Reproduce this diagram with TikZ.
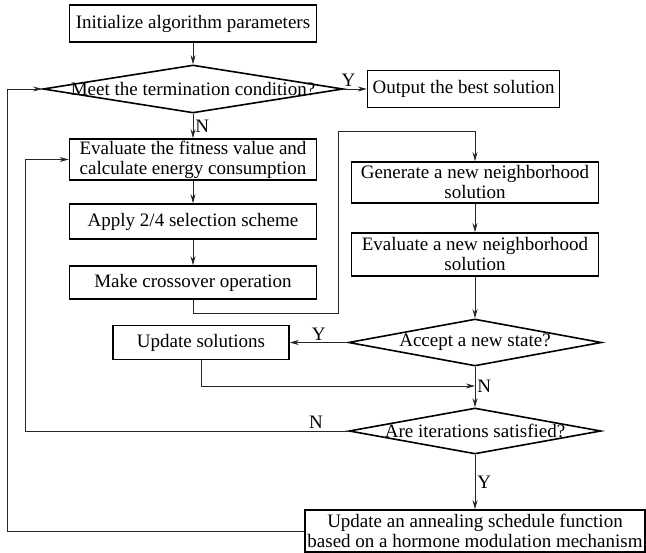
\documentclass[tikz,border=0pt]{standalone}
\usepackage{fontspec}
\setmainfont{Liberation Serif}
\usetikzlibrary{arrows.meta, shapes.geometric, positioning}

\tikzset{
  box/.style={draw, line width=1.6pt, inner sep=1pt, align=center, font=\fontsize{19}{20}\selectfont},
  decision/.style={draw, diamond, line width=1.6pt, inner sep=0pt},
  line/.style={line width=0.8pt, draw=black!85},
  lbl/.style={font=\fontsize{19}{20}\selectfont, inner sep=2pt}
}

\begin{document}
\begin{tikzpicture}[x=1pt, y=-1pt, >={Stealth[length=9pt,width=5pt]}]
\useasboundingbox (0,0) rectangle (646,553);

\node (init) [box, minimum width=247pt, minimum height=37pt] at (193,23.5) {Initialize algorithm parameters};
\node (meet) [decision, minimum width=300pt, minimum height=48pt,
  label={[lbl]center:Meet the termination condition?}] at (193,89) {};
\node (output) [box, minimum width=192pt, minimum height=37pt, right=23pt of meet] {Output the best solution};
\node (evalfit) [box, minimum width=247pt, minimum height=41pt] at (193,159.5) {Evaluate the fitness value and\\calculate energy consumption};
\node (apply) [box, minimum width=247pt, minimum height=35pt] at (193,221.5) {Apply 2/4 selection scheme};
\node (cross) [box, minimum width=247pt, minimum height=33pt] at (193,282.5) {Make crossover operation};
\node (gen) [box, minimum width=247pt, minimum height=41pt] at (475,182.5) {Generate a new neighborhood\\solution};
\node (evalnew) [box, minimum width=247pt, minimum height=43pt] at (475,254.5) {Evaluate a new neighborhood\\solution};
\node (accept) [decision, minimum width=253pt, minimum height=47pt,
  label={[lbl]center:Accept a new state?}] at (475,342.5) {};
\node (update) [box, minimum width=176pt, minimum height=34pt] at (201,342.5) {Update solutions};
\node (iter) [decision, minimum width=252pt, minimum height=46pt,
  label={[lbl]center:Are iterations satisfied?}] at (475,431) {};
\node (anneal) [box, minimum width=340pt, minimum height=42pt, inner sep=0pt] at (475,531) {Update an annealing schedule function\\based on a hormone modulation mechanism};

% bends of the loops
\coordinate (c1) at (338,313);
\coordinate (c2) at (338,131);
\coordinate (join) at (475,386);
\coordinate (c3) at (25,431);
\coordinate (c4) at (7,89);

\path[->, line] (init) edge (meet)
  (meet) edge node[lbl, pos=0.2, above] {Y} (output)
  (meet) edge node[lbl, right] {N} (evalfit)
  (evalfit) edge (apply)
  (apply) edge (cross)
  (gen) edge (evalnew)
  (evalnew) edge (accept)
  (accept) edge node[lbl, above] {Y} (update)
  (accept) edge (iter)
  (iter) edge node[lbl, right] {Y} (anneal);

\draw[->, line] (cross.south) |- (c1) -- (c2) -| (gen.north);
\draw[->, line] (update.south) |- (join) node[lbl, right] {N};
\draw[->, line] (iter.west) -- node[lbl, above, pos=0.1] {N} (c3) |- (evalfit.west);
\draw[->, line] (anneal.west) -| (c4) -- (meet.west);
\end{tikzpicture}
\end{document}
